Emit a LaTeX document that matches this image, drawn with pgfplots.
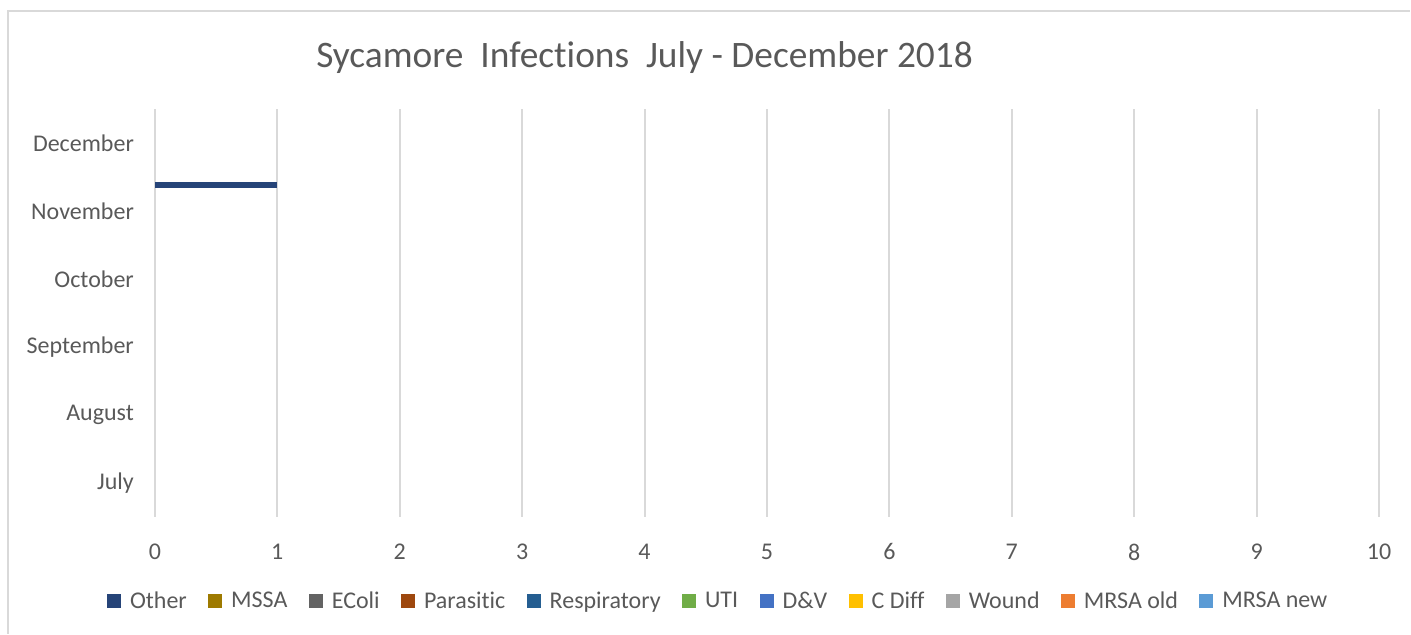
\documentclass[border=0pt]{standalone}
\usepackage{pgfplots}
\pgfplotsset{compat=1.18}
\usepackage{fontspec}
\setmainfont[RawFeature={-liga;-clig;-calt;-dlig}]{Carlito}
\definecolor{txt}{HTML}{595959}
\definecolor{gridc}{HTML}{D9D9D9}
\definecolor{cOther}{HTML}{264478}
\definecolor{cMSSA}{HTML}{9E7A00}
\definecolor{cEColi}{HTML}{636363}
\definecolor{cPara}{HTML}{9E480E}
\definecolor{cResp}{HTML}{255E91}
\definecolor{cUTI}{HTML}{70AD47}
\definecolor{cDV}{HTML}{4472C4}
\definecolor{cCDiff}{HTML}{FFC000}
\definecolor{cWound}{HTML}{A5A5A5}
\definecolor{cMRSAold}{HTML}{ED7D31}
\definecolor{cMRSAnew}{HTML}{5B9BD5}
\begin{document}
\begin{tikzpicture}
\path (0pt,0pt) rectangle (705.5pt,-317pt);
\draw[gridc, line width=1pt] (4pt,-317pt) -- (4pt,-5.5pt) -- (705.5pt,-5.5pt);
\node[text=txt, font=\fontsize{18.7}{20}\selectfont] at (322.5pt,-29pt) {Sycamore\ \ Infections\ \ July - December 2018};
\begin{axis}[
  at={(77.5pt,-258.5pt)}, anchor=south west,
  width=612.5pt, height=204pt, scale only axis,
  xmin=0, xmax=10, ymin=-0.5, ymax=5.5,
  xtick={0,1,...,10},
  ytick={0,1,2,3,4,5},
  yticklabels={July,August,September,October,November,December},
  axis line style={draw=none},
  major tick length=0pt,
  xmajorgrids=true, ymajorgrids=false,
  major grid style={draw=gridc, line width=1pt},
  tick label style={text=txt, font=\fontsize{12}{14}\selectfont},
  /pgf/number format/assume math mode=true,
  xticklabel style={yshift=-10pt},
  yticklabel style={xshift=-7pt},
  legend columns=11,
  legend style={at={(0.461,-0.208)}, anchor=center, draw=none, fill=none,
    font=\fontsize{12}{14}\selectfont, text=txt,
    /tikz/every odd column/.append style={column sep=2.5pt},
    /tikz/every even column/.append style={column sep=8.7pt},
    inner sep=0pt},
  legend image code/.code={\fill[#1, draw=none] (0pt,-3.5pt) rectangle (7pt,3.5pt);},
]
\addplot[xbar, fill=cOther, draw=none, bar width=2.75pt, bar shift=13pt] coordinates {(1,4)};
\addlegendentry{Other}
\addlegendimage{fill=cMSSA, draw=none}\addlegendentry{MSSA}
\addlegendimage{fill=cEColi, draw=none}\addlegendentry{EColi}
\addlegendimage{fill=cPara, draw=none}\addlegendentry{Parasitic}
\addlegendimage{fill=cResp, draw=none}\addlegendentry{Respiratory}
\addlegendimage{fill=cUTI, draw=none}\addlegendentry{UTI}
\addlegendimage{fill=cDV, draw=none}\addlegendentry{D\&V}
\addlegendimage{fill=cCDiff, draw=none}\addlegendentry{C Diff}
\addlegendimage{fill=cWound, draw=none}\addlegendentry{Wound}
\addlegendimage{fill=cMRSAold, draw=none}\addlegendentry{MRSA old}
\addlegendimage{fill=cMRSAnew, draw=none}\addlegendentry{MRSA new}
\end{axis}
\end{tikzpicture}
\end{document}
